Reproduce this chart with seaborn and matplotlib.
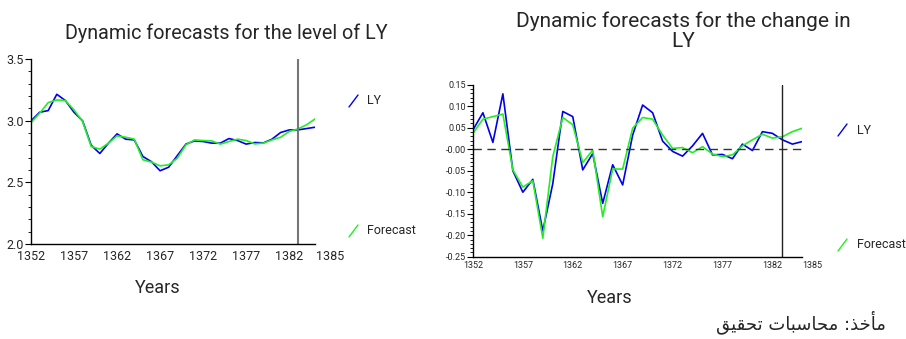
import matplotlib
matplotlib.use("Agg")
import matplotlib.pyplot as plt
import matplotlib.transforms as mtransforms
from matplotlib.lines import Line2D
from matplotlib.ticker import MultipleLocator
import numpy as np
import pandas as pd
import seaborn as sns

years = np.arange(1352, 1386)

level_ly = [2.998, 3.068, 3.082, 3.214, 3.163, 3.068, 2.998, 2.800, 2.734, 2.818,
            2.893, 2.850, 2.844, 2.710, 2.667, 2.594, 2.623, 2.717, 2.810, 2.836,
            2.831, 2.818, 2.818, 2.855, 2.839, 2.810, 2.823, 2.820, 2.850, 2.904,
            2.925, 2.925, 2.936, 2.947]
level_fc = [2.985, 3.060, 3.147, 3.168, 3.163, 3.087, 2.993, 2.790, 2.769, 2.818,
            2.877, 2.866, 2.850, 2.683, 2.664, 2.634, 2.642, 2.696, 2.804, 2.844,
            2.839, 2.836, 2.810, 2.831, 2.850, 2.839, 2.812, 2.818, 2.844, 2.866,
            2.912, 2.933, 2.966, 3.014]

change_ly = [0.045, 0.085, 0.016, 0.129, -0.050, -0.100, -0.070, -0.190, -0.080, 0.088,
             0.076, -0.048, -0.010, -0.126, -0.036, -0.083, 0.033, 0.103, 0.085, 0.019,
             -0.005, -0.016, 0.008, 0.037, -0.013, -0.012, -0.022, 0.012, -0.003, 0.041,
             0.037, 0.022, 0.012, 0.018]
change_fc = [0.037, 0.070, 0.076, 0.082, -0.048, -0.088, -0.073, -0.207, -0.017, 0.074,
             0.057, -0.031, -0.002, -0.157, -0.046, -0.046, 0.049, 0.074, 0.070, 0.033,
             0.002, 0.004, -0.008, 0.006, -0.011, -0.017, -0.013, 0.008, 0.022, 0.035,
             0.026, 0.029, 0.041, 0.049]

x_ticks = [1352, 1357, 1362, 1367, 1372, 1377, 1382, 1385]
split_year = 1383
series_names = ["LY", "Forecast"]
colors = {"LY": "#0000ee", "Forecast": "#22ee22"}

sns.set_theme(style="white")
plt.rcParams["font.family"] = ["Roboto", "Liberation Sans", "DejaVu Sans"]

fig = plt.figure(figsize=(9.06, 3.39), dpi=100)
ax1 = fig.add_axes([0.0342, 0.2802, 0.3135, 0.5457])
ax2 = fig.add_axes([0.522, 0.2428, 0.3636, 0.507])


def long_df(a, b):
    return pd.DataFrame({
        "year": np.concatenate([years, years]),
        "value": np.concatenate([a, b]),
        "series": ["LY"] * len(years) + ["Forecast"] * len(years),
    })


def style_axis(ax, label_size, tick_size, shift, xpad):
    for s in ["top", "right"]:
        ax.spines[s].set_visible(False)
    for s in ["left", "bottom"]:
        ax.spines[s].set_color("black")
        ax.spines[s].set_linewidth(1.0)
    ax.set_xlim(1352, 1385)
    ax.set_xticks(x_ticks)
    ax.set_xticklabels([str(t) for t in x_ticks], fontsize=label_size)
    ax.tick_params(axis="x", length=0, pad=xpad)
    ax.tick_params(axis="y", which="major", left=True, length=4, width=0.8,
                   color="black", labelsize=tick_size, pad=1)
    ax.tick_params(axis="y", which="minor", left=True, length=2.5, width=0.6, color="black")
    last = ax.get_xticklabels()[-1]
    last.set_transform(last.get_transform() + mtransforms.ScaledTranslation(shift, 0, fig.dpi_scale_trans))
    ax.set_xlabel("")
    ax.set_ylabel("")
    ax.grid(False)


# left panel: level
sns.lineplot(data=long_df(level_ly, level_fc), x="year", y="value", hue="series",
             hue_order=series_names, palette=colors, linewidth=1.2, legend=False, ax=ax1)
ax1.axvline(split_year, color="#777777", linewidth=1.5)
ax1.set_ylim(2.0, 3.5)
ax1.yaxis.set_major_locator(MultipleLocator(0.5))
ax1.yaxis.set_minor_locator(MultipleLocator(0.1))
ax1.set_yticklabels([f"{v:.1f}" for v in ax1.get_yticks()])
style_axis(ax1, 9, 9, 0.15, 4)

# right panel: change
sns.lineplot(data=long_df(change_ly, change_fc), x="year", y="value", hue="series",
             hue_order=series_names, palette=colors, linewidth=1.2, legend=False, ax=ax2)
ax2.axhline(0, color="#333333", linewidth=1.0, linestyle=(0, (6, 4)))
ax2.axvline(split_year, color="#222222", linewidth=1.0)
ax2.set_ylim(-0.25, 0.15)
ax2.yaxis.set_major_locator(MultipleLocator(0.05))
ax2.yaxis.set_minor_locator(MultipleLocator(0.01))
ax2.set_yticks(np.round(np.arange(-0.25, 0.151, 0.05), 2))
ax2.set_yticklabels([f"{v:.2f}" for v in ax2.get_yticks()])
style_axis(ax2, 6.5, 6.5, 0.10, 3)

# titles and axis captions
fig.text(226 / 906, 1 - 33 / 339, "Dynamic forecasts for the level of LY",
         ha="center", va="center", fontsize=14.2)
fig.text(683 / 906, 1 - 31 / 339, "Dynamic forecasts for the change in\nLY",
         ha="center", va="center", fontsize=15, linespacing=1.08)
fig.text(158 / 906, 1 - 288 / 339, "Years", ha="center", va="center", fontsize=13)
fig.text(610 / 906, 1 - 298 / 339, "Years", ha="center", va="center", fontsize=13)

# legends
legend_items = [
    (349, 358, 101, 367, "LY", "LY"),
    (349, 358, 231, 367, "Forecast", "Forecast"),
    (838, 847, 130, 857, "LY", "LY"),
    (838, 847, 245, 857, "Forecast", "Forecast"),
]
for x0, x1, yc, xt, key, label in legend_items:
    fig.add_artist(Line2D([x0 / 906, x1 / 906], [1 - (yc + 6) / 339, 1 - (yc - 6) / 339],
                          color=colors[key], linewidth=1.0, transform=fig.transFigure))
    fig.text(xt / 906, 1 - yc / 339, label, ha="left", va="center", fontsize=9)

# source note (Persian, presentation forms in visual order)
source_note = "\uFED6\uFEF4\uFED8\uFEA4\uFE97 \uFE95\uFE8E\uFE92\uFEB3\uFE8E\uFEA4\uFEE3 :\uFEAC\uFEA7\uFE84\uFEE3"
fig.text(886 / 906, 1 - 322 / 339, source_note, ha="right", va="center",
         fontsize=13, family=["DejaVu Sans"])

fig.savefig("out.png", dpi=100)
